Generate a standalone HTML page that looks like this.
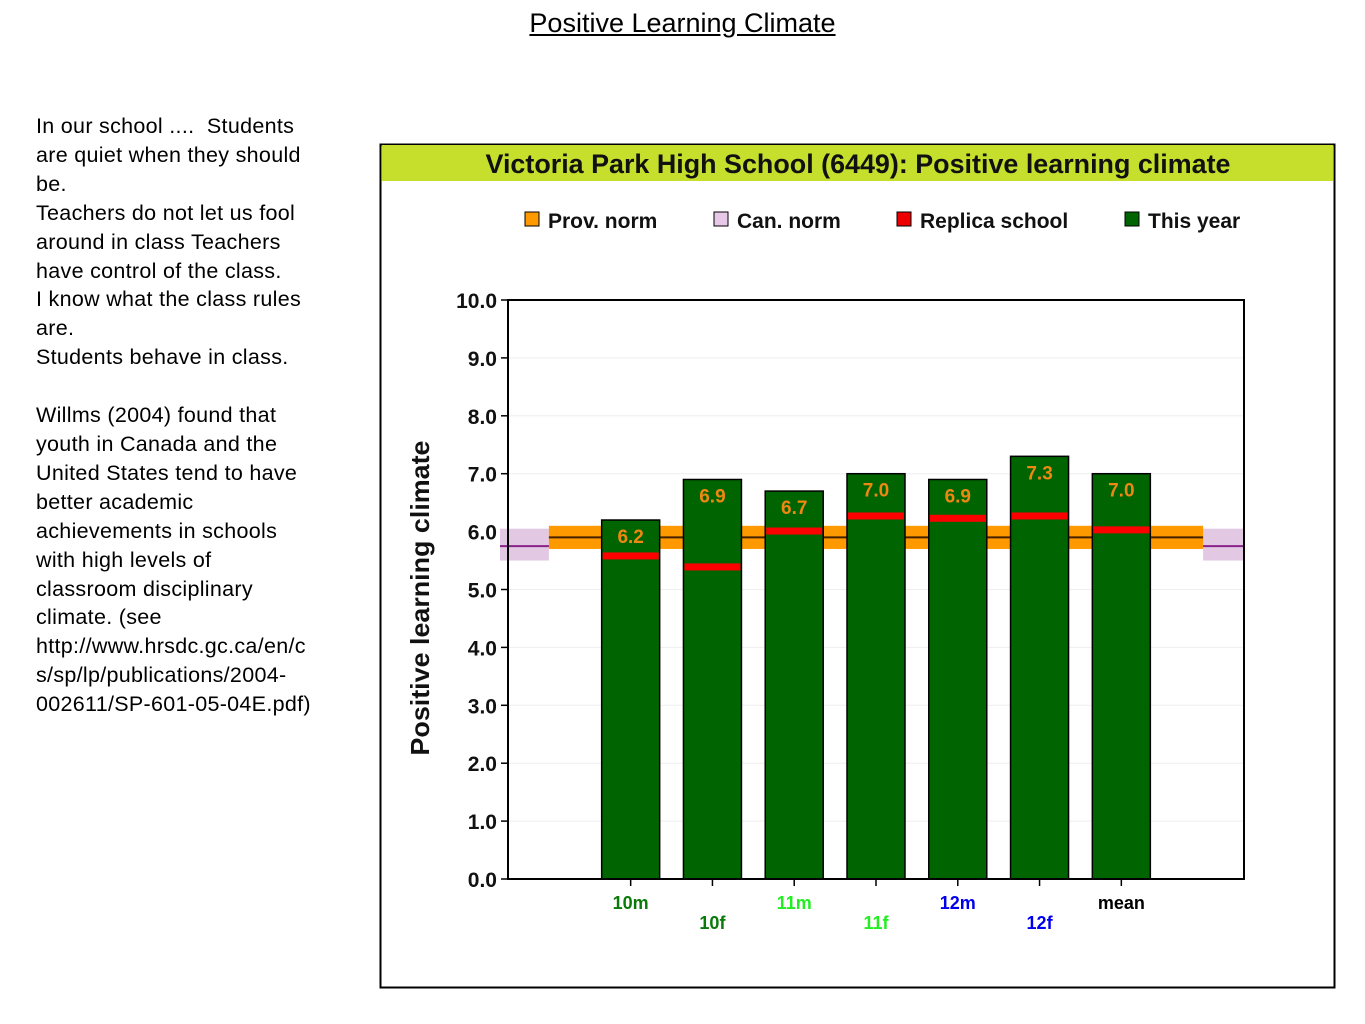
<!DOCTYPE html>
<html><head><meta charset="utf-8"><style>
body{margin:0;width:1365px;height:1024px;background:#fff;position:relative;overflow:hidden;font-family:"Liberation Sans",sans-serif}
#title{position:absolute;left:0;width:1365px;top:8px;text-align:center;font-size:27px;text-decoration:underline;color:#000}
#side{position:absolute;left:36px;top:112px;font-size:21.5px;line-height:28.9px;color:#000;white-space:nowrap;letter-spacing:0.3px}
svg{position:absolute;left:0;top:0}
</style></head><body>
<div id="title">Positive Learning Climate</div>
<div id="side">In our school ....&nbsp; Students<br>are quiet when they should<br>be.<br>Teachers do not let us fool<br>around in class Teachers<br>have control of the class.<br>I know what the class rules<br>are.<br>Students behave in class.<br><br>Willms (2004) found that<br>youth in Canada and the<br>United States tend to have<br>better academic<br>achievements in schools<br>with high levels of<br>classroom disciplinary<br>climate. (see<br>http://www.hrsdc.gc.ca/en/c<br>s/sp/lp/publications/2004-<br>002611/SP-601-05-04E.pdf)</div>
<svg id="chart" width="1365" height="1024" font-family="Liberation Sans, sans-serif"></svg>
<script>
const categories=["10m","10f","11m","11f","12m","12f","mean"];
const thisYear=[6.2,6.9,6.7,7.0,6.9,7.3,7.0];
const replica=[5.58,5.39,6.01,6.27,6.23,6.27,6.03];
const provNorm=[5.9,5.7,6.1];
const canNorm=[5.75,5.5,6.05];
const yTicks=["0.0","1.0","2.0","3.0","4.0","5.0","6.0","7.0","8.0","9.0","10.0"];
const catColors=["#0a7a0a","#0a7a0a","#22ee22","#22ee22","#0000ee","#0000ee","#000"];

const svg=document.getElementById('chart');
const NS='http://www.w3.org/2000/svg';
const X0=508,X1=1244,Y0=879,Y1=300;
const y=v=>Y0-(v/10)*(Y0-Y1);
const step=(X1-X0)/9;
const xc=i=>X0+(i+1.5)*step;
function mk(t,a,txt){const e=document.createElementNS(NS,t);for(const k in a)e.setAttribute(k,a[k]);if(txt!=null)e.textContent=txt;svg.appendChild(e);return e;}

let e;
e=mk('rect',{x:380.5,y:144.5,width:954,height:843,fill:'#fff',stroke:'#000','stroke-width':2});

e=mk('rect',{x:382,y:145,width:951,height:36,fill:'#c5df2c'});

e=mk('text',{x:858,y:173,'text-anchor':'middle','font-size':27,'font-weight':'bold',fill:'#111',textLength:745,lengthAdjust:'spacingAndGlyphs'},'Victoria Park High School (6449): Positive learning climate');


const legend=[["Prov. norm","#ff9900",525],["Can. norm","#e8c8e8",714],["Replica school","#ee0000",897],["This year","#006400",1125]];
legend.forEach(l=>{
 const g=mk('rect',{x:l[2],y:212,width:14,height:14,fill:l[1],stroke:'#000','stroke-width':1});
 
 const t=mk('text',{x:l[2]+23,y:228,'font-size':21,'font-weight':'bold',fill:'#111'},l[0]);
 
});

yTicks.forEach((lab,i)=>{
 const yy=y(i);
 if(i>0&&i<10){const g=mk('line',{x1:X0,x2:X1,y1:yy,y2:yy,stroke:'#eee','stroke-width':1});}
 const tk=mk('line',{x1:X0-7,x2:X0,y1:yy,y2:yy,stroke:'#000','stroke-width':1.5});
 
 const t=mk('text',{x:X0-11,y:yy+8,'text-anchor':'end','font-size':21,'font-weight':'bold',fill:'#111'},lab);
 
});
e=mk('text',{x:0,y:0,transform:'translate(429,598) rotate(-90)','text-anchor':'middle','font-size':26,'font-weight':'bold',fill:'#111',textLength:315,lengthAdjust:'spacingAndGlyphs'},'Positive learning climate');


const pL=X0+0.5*step, pR=X0+8.5*step;
e=mk('rect',{x:X0-8,y:y(canNorm[2]),width:pL-X0+8,height:y(canNorm[1])-y(canNorm[2]),fill:'#e2c8e2'});

e=mk('rect',{x:pR,y:y(canNorm[2]),width:X1-pR,height:y(canNorm[1])-y(canNorm[2]),fill:'#e2c8e2'});

e=mk('line',{x1:X0-8,x2:X1,y1:y(canNorm[0]),y2:y(canNorm[0]),stroke:'#882288','stroke-width':2});

e=mk('rect',{x:pL,y:y(provNorm[2]),width:pR-pL,height:y(provNorm[1])-y(provNorm[2]),fill:'#ff9900'});

e=mk('line',{x1:pL,x2:pR,y1:y(provNorm[0]),y2:y(provNorm[0]),stroke:'#442200','stroke-width':2});


const bw=58;
categories.forEach((c,i)=>{
 const cx=xc(i);
 const b=mk('rect',{x:cx-bw/2,y:y(thisYear[i]),width:bw,height:Y0-y(thisYear[i]),fill:'#006400',stroke:'#000','stroke-width':1.5});
 
 const r=mk('rect',{x:cx-bw/2+1,y:y(replica[i])-3.5,width:bw-2,height:7,fill:'#ff0000'});
 
 const t=mk('text',{x:cx,y:y(thisYear[i])+23,'text-anchor':'middle','font-size':19,'font-weight':'bold',fill:'#ee8811'},thisYear[i].toFixed(1));
 
 const tk=mk('line',{x1:cx,x2:cx,y1:Y0,y2:Y0+7,stroke:'#000','stroke-width':1.5});
 
 const xl=mk('text',{x:cx,y:(i%2==0||i==6)?909:929,'text-anchor':'middle','font-size':18,'font-weight':'bold',fill:catColors[i]},c);
 
});

e=mk('rect',{x:X0,y:Y1,width:X1-X0,height:Y0-Y1,fill:'none',stroke:'#000','stroke-width':2});

</script>
</body></html>
